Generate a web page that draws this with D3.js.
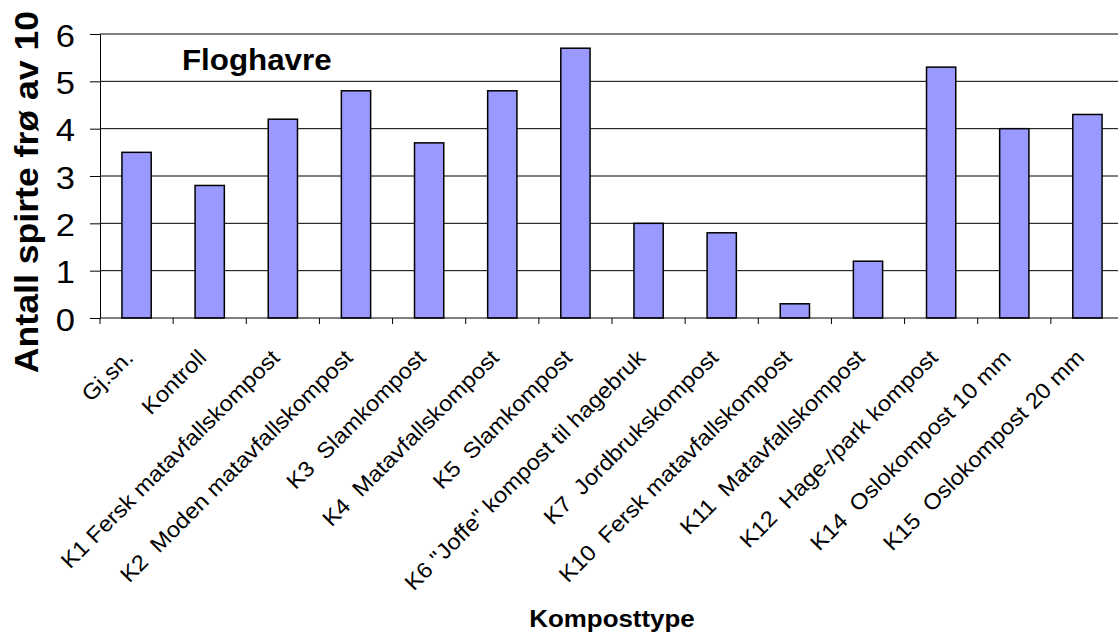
<!DOCTYPE html>
<html>
<head>
<meta charset="utf-8">
<script src="https://cdn.jsdelivr.net/npm/d3@7"></script>
<style>
  html, body { margin: 0; padding: 0; background: #fff; }
  svg { display: block; }
  text { font-family: "Liberation Sans", Arial, Helvetica, sans-serif; fill: #000; white-space: pre; }
</style>
</head>
<body>
<svg id="chart" width="1118" height="636"></svg>
<script>
// Germinated wild-oat seeds (out of 10) per compost type
const categories = [
  "Gj.sn.",
  "Kontroll",
  "K1 Fersk matavfallskompost",
  "K2  Moden matavfallskompost",
  "K3  Slamkompost",
  "K4  Matavfallskompost",
  "K5  Slamkompost",
  "K6 \"Joffe\" kompost til hagebruk",
  "K7  Jordbrukskompost",
  "K10  Fersk matavfallskompost",
  "K11  Matavfallskompost",
  "K12  Hage-/park kompost",
  "K14  Oslokompost 10 mm",
  "K15  Oslokompost 20 mm"
];
const values = [3.5, 2.8, 4.2, 4.8, 3.7, 4.8, 5.7, 2.0, 1.8, 0.3, 1.2, 5.3, 4.0, 4.3];
const yTicks = [0, 1, 2, 3, 4, 5, 6];

const chartTitle = "Floghavre";
const yTitle = "Antall spirte frø av 10";
const xTitle = "Komposttype";

// glyphs are drawn slightly wide along the reading direction
const STRETCH = 1.08;

const svg = d3.select("#chart");
const plot = { left: 100, right: 1124, top: 34, bottom: 318 };

const y = d3.scaleLinear().domain([0, 6]).range([plot.bottom, plot.top]);
const x = d3.scaleBand().domain(categories)
  .range([plot.left, plot.right]).paddingInner(0.6).paddingOuter(0.3);
const xSlots = d3.scaleBand().domain(categories).range([plot.left, plot.right]);

// horizontal gridlines
svg.append("g").selectAll("line").data(yTicks.filter(d => d > 0)).join("line")
  .attr("x1", plot.left).attr("x2", plot.right)
  .attr("y1", d => y(d)).attr("y2", d => y(d))
  .attr("stroke", "#000").attr("stroke-width", 1);

// bars
svg.append("g").selectAll("rect").data(values).join("rect")
  .attr("x", (d, i) => x(categories[i]))
  .attr("width", x.bandwidth())
  .attr("y", d => y(d))
  .attr("height", d => y(0) - y(d))
  .attr("fill", "#9999ff")
  .attr("stroke", "#000")
  .attr("stroke-width", 1.5);

// y axis
const yAxis = d3.axisLeft(y).tickValues(yTicks).tickSize(10).tickSizeOuter(0).tickFormat(d3.format("d"));
const gy = svg.append("g").attr("transform", `translate(${plot.left},0)`).call(yAxis);
gy.select(".domain").attr("stroke", "#000");
gy.selectAll(".tick line").attr("stroke", "#000");
gy.selectAll(".tick text").remove();
gy.selectAll(".tick").append("text")
  .attr("text-anchor", "end")
  .attr("transform", `translate(-25,12) scale(${STRETCH},1)`)
  .style("font-size", "32px")
  .text(d => d);

// x axis with ticks at category boundaries
const gx = svg.append("g").attr("transform", `translate(0,${plot.bottom})`);
gx.append("line").attr("x1", plot.left).attr("x2", plot.right)
  .attr("y1", 0).attr("y2", 0).attr("stroke", "#000");
gx.selectAll("line.tk").data(categories.concat([null])).join("line")
  .attr("class", "tk")
  .attr("x1", (d, i) => plot.left + i * xSlots.step())
  .attr("x2", (d, i) => plot.left + i * xSlots.step())
  .attr("y1", 0).attr("y2", 6).attr("stroke", "#000");

// rotated category labels
gx.selectAll("text.cat").data(categories).join("text")
  .attr("class", "cat")
  .attr("text-anchor", "end")
  .attr("transform", d => `translate(${xSlots(d) + xSlots.bandwidth() / 2 - 2},${41}) rotate(-45) scale(${STRETCH},1)`)
  .style("font-size", "22px")
  .text(d => d);

// titles
svg.append("text")
  .attr("transform", `translate(182,70) scale(${STRETCH},1)`)
  .style("font-size", "29px").style("font-weight", "bold")
  .text(chartTitle);

svg.append("text")
  .attr("text-anchor", "middle")
  .attr("transform", `translate(612,627) scale(${STRETCH},1)`)
  .style("font-size", "24px").style("font-weight", "bold")
  .text(xTitle);

svg.append("text")
  .attr("text-anchor", "middle")
  .attr("transform", `translate(38,192) rotate(-90) scale(${STRETCH},1)`)
  .style("font-size", "33px").style("font-weight", "bold")
  .text(yTitle);
</script>
</body>
</html>
